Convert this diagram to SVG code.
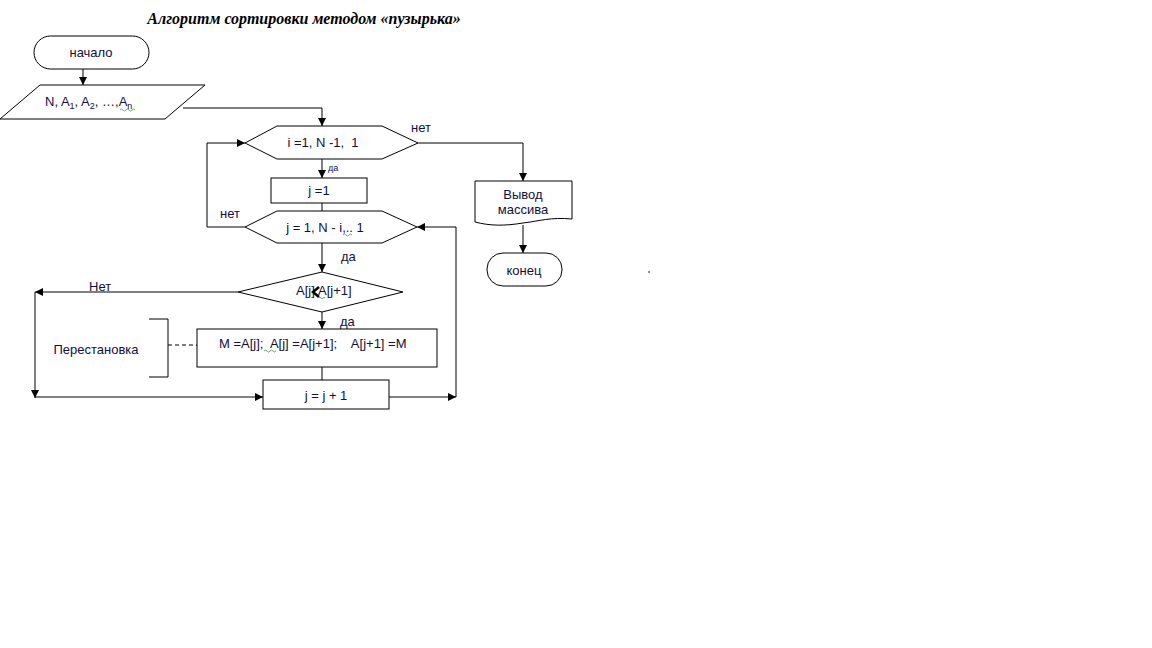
<svg xmlns="http://www.w3.org/2000/svg" width="1152" height="648" viewBox="0 0 1152 648">
<defs>
<marker id="ah" viewBox="0 0 10 10" refX="10" refY="5" markerWidth="8" markerHeight="8" orient="auto" markerUnits="userSpaceOnUse">
<path d="M0,0 L10,5 L0,10 Z" fill="#000"/>
</marker>
<style>
.s{fill:#fff;stroke:#000;stroke-width:1}
.l{fill:none;stroke:#000;stroke-width:1}
.t{font-family:"Liberation Sans",Arial,sans-serif;font-size:13px;fill:#10103a}
.c{text-anchor:middle}
.sm{font-size:9px}
.sq{fill:none;stroke:#3a9a3a;stroke-width:0.8}
</style>
</defs>
<rect width="1152" height="648" fill="#fff"/>
<text x="304" y="24" text-anchor="middle" font-family="Liberation Serif,'Times New Roman',serif" font-size="16" font-weight="bold" font-style="italic" fill="#000">Алгоритм сортировки методом «пузырька»</text>

<g id="connectors">
<path class="l" d="M83,69 V85" marker-end="url(#ah)"/>
<path class="l" d="M183,108 H322 V126" marker-end="url(#ah)"/>
<path class="l" d="M418,143 H523 V181" marker-end="url(#ah)"/>
<path class="l" d="M322,159 V178" marker-end="url(#ah)"/>
<path class="l" d="M322,203 V211"/>
<path class="l" d="M245,227 H207 V143 H245" marker-end="url(#ah)"/>
<path class="l" d="M322,243 V272" marker-end="url(#ah)"/>
<path class="l" d="M238,292 H35" marker-end="url(#ah)"/>
<path class="l" d="M35,292 V398" marker-end="url(#ah)"/>
<path class="l" d="M35,397 H263" marker-end="url(#ah)"/>
<path class="l" d="M322,312 V329" marker-end="url(#ah)"/>
<path class="l" d="M322,367 V380"/>
<path class="l" d="M389,397 H456" marker-end="url(#ah)"/>
<path class="l" d="M456,397 V227 H417" marker-end="url(#ah)"/>
<path class="l" d="M523,225 V253" marker-end="url(#ah)"/>
<path class="l" d="M149,319 H168 V377 H149"/>
<path class="l" d="M168,345 H197" stroke-dasharray="4,3"/>
</g>

<g id="start">
<rect class="s" x="34" y="36" width="115" height="33" rx="16.5" ry="16.5"/>
<text class="t c" x="91" y="57">начало</text>
</g>

<g id="input">
<polygon class="s" points="40,85 205,85 165,119 0,119"/>
<text class="t" x="45" y="106">N, A<tspan font-size="9" dy="3">1</tspan><tspan dy="-3">, A</tspan><tspan font-size="9" dy="3">2</tspan><tspan dy="-3">, …,A</tspan><tspan font-size="9" dy="3">n</tspan></text>
<path class="sq" d="M120,110 q1.5,-2 3,0 t3,0 t3,0 t3,0 t3,0"/>
</g>

<g id="loop-i">
<polygon class="s" points="245,143 277,126 382,126 418,143 382,159 277,159"/>
<text class="t c" x="323" y="147" xml:space="preserve">i =1, N -1,  1</text>
</g>
<text class="t" x="411" y="132">нет</text>
<text class="t sm" x="328" y="171">да</text>

<g id="init-j">
<rect class="s" x="271" y="178" width="96" height="25"/>
<text class="t c" x="319" y="195">j =1</text>
</g>

<g id="loop-j">
<polygon class="s" points="245,227 277,211 382,211 417,227 382,243 277,243"/>
<text class="t c" x="325" y="232">j = 1, N - i,.. 1</text>
<path class="sq" d="M343,235 q1.5,-2 3,0 t3,0 t3,0"/>
</g>
<text class="t" x="220" y="218">нет</text>
<text class="t" x="341" y="261">да</text>

<g id="compare">
<polygon class="s" points="238,292 322,272 403,292 322,312"/>
<text class="t" x="296" y="295" font-size="10">A[j]</text>
<path d="M319,287 L313,292 L319,297" fill="none" stroke="#000" stroke-width="2.5"/>
<text class="t" x="318" y="295" font-size="10">A[j+1]</text>
<path class="sq" d="M319,298 q1,-1.5 2,0 t2,0 t2,0"/>
</g>
<text class="t" x="89" y="291">Нет</text>
<text class="t" x="340" y="326">да</text>

<g id="swap">
<rect class="s" x="197" y="329" width="240" height="38"/>
<text class="t" x="219" y="348" xml:space="preserve">M =A[j];  A[j] =A[j+1];    A[j+1] =M</text>
<path class="sq" d="M264,351 q1.5,-2 3,0 t3,0 t3,0 t3,0"/>
</g>
<text class="t c" x="96" y="354">Перестановка</text>

<g id="increment">
<rect class="s" x="263" y="380" width="126" height="29"/>
<text class="t c" x="326" y="400">j = j + 1</text>
</g>

<g id="output">
<path class="s" d="M475,181 H572 V219 C550,217 540,221 523,223 C505,226 490,226 475,222 Z"/>
<text class="t c" x="523" y="199">Вывод</text>
<text class="t c" x="523" y="214">массива</text>
</g>

<g id="end">
<rect class="s" x="487" y="253" width="75" height="33" rx="16" ry="16"/>
<text class="t c" x="524" y="275">конец</text>
</g>

<circle cx="649" cy="272" r="0.8" fill="#000"/>
</svg>
